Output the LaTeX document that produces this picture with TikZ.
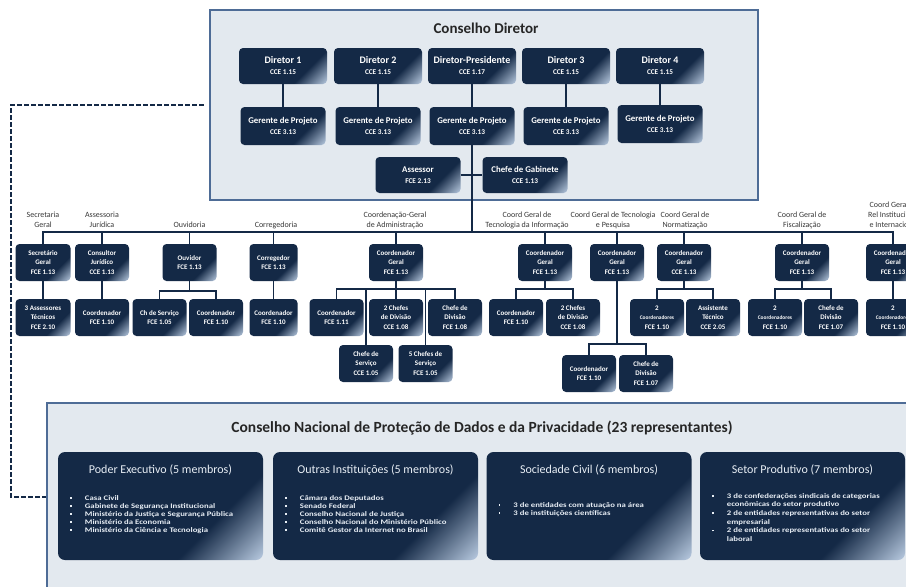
\documentclass[tikz,border=0pt]{standalone}
\usepackage{fontspec}
\setmainfont{Carlito}
\newfontfamily\listafont[FakeStretch=1.25]{Carlito}
\usetikzlibrary{positioning}

\definecolor{cdnavy}{RGB}{20,41,70}
\definecolor{cdpale}{RGB}{190,208,230}
\definecolor{cdfundo}{RGB}{227,233,239}
\definecolor{cdborda}{RGB}{78,108,150}
\definecolor{cdtexto}{RGB}{55,55,55}
\definecolor{cdclaro}{RGB}{232,238,245}

\pgfdeclarehorizontalshading{cdcanto}{100bp}{color(0bp)=(cdnavy); color(66bp)=(cdnavy); color(86bp)=(cdpale); color(100bp)=(cdpale)}

\newcommand{\cod}{\fontsize{7.3}{9}\selectfont}
\newcommand{\marca}{\rule[1.4pt]{1.9pt}{1.9pt}}
\newcommand{\apertado}{\fontsize{5.4}{9.5}\selectfont}

\tikzset{
  caixa/.style={rectangle, rounded corners=4pt, shading=cdcanto, shading angle=-45, text=white, align=center, inner sep=1pt},
  diretor/.style={caixa, minimum width=88pt, minimum height=36pt, font=\bfseries\fontsize{10}{11}\selectfont},
  gerente/.style={caixa, minimum width=85pt, minimum height=38pt, font=\bfseries\fontsize{8.8}{10.5}\selectfont},
  unidade/.style={caixa, minimum width=54pt, minimum height=37pt, font=\bfseries\fontsize{7}{9.5}\selectfont},
  painel/.style={caixa, rounded corners=7pt, minimum width=205pt, minimum height=108pt},
  rotulo/.style={text=cdtexto, align=center, inner sep=0pt, font=\fontsize{8}{10}\selectfont},
  moldura/.style={rectangle, fill=cdfundo, draw=cdborda, line width=2.2pt},
  elo/.style={draw=cdnavy, line width=1.7pt},
  tracejado/.style={draw=cdnavy, line width=1.7pt, dash pattern=on 4.5pt off 2.5pt},
  titpainel/.style={text=cdclaro, inner sep=0pt, font=\fontsize{12}{14}\selectfont},
  lista/.style={text=cdclaro, inner sep=0pt, font=\listafont\bfseries\fontsize{7}{7.9}\selectfont},
}

\begin{document}
\begin{tikzpicture}[x=1pt, y=-1pt]
    \useasboundingbox (0,0) rectangle (906,587);
    \clip (0,0) rectangle (906,587);

    % Conselho Diretor
    \node[moldura, minimum width=548pt, minimum height=190pt] (cd) at (484,105) {};
    \node[font=\bfseries\fontsize{15}{17}\selectfont, text=black!85] (cdtit) at (486,28) {Conselho Diretor};

    \node[diretor] (d1) at (283,66) {Diretor 1\\{\cod CCE 1.15}};
    \node[diretor] (d2) at (378,66) {Diretor 2\\{\cod CCE 1.15}};
    \node[diretor] (dp) at (472,66) {Diretor-Presidente\\{\cod CCE 1.17}};
    \node[diretor] (d3) at (566,66) {Diretor 3\\{\cod CCE 1.15}};
    \node[diretor] (d4) at (660,66) {Diretor 4\\{\cod CCE 1.15}};

    \node[gerente] (g1) at (283,126) {Gerente de Projeto\\{\cod CCE 3.13}};
    \node[gerente] (g2) at (378,126) {Gerente de Projeto\\{\cod CCE 3.13}};
    \node[gerente] (gp) at (472,126) {Gerente de Projeto\\{\cod CCE 3.13}};
    \node[gerente] (g3) at (566,126) {Gerente de Projeto\\{\cod CCE 3.13}};
    \node[gerente] (g4) at (660,124) {Gerente de Projeto\\{\cod CCE 3.13}};

    \node[gerente, minimum height=36pt] (ass) at (418,175) {Assessor\\{\cod FCE 2.13}};
    \node[gerente, minimum height=36pt] (gab) at (525,175) {Chefe de Gabinete\\{\cod CCE 1.13}};

    \foreach \i in {1,2,p,3,4}
        \draw[elo] (d\i) -- (g\i);
    \draw[elo] (ass) -- (gab);

    % barramento das unidades
    \coordinate (barra) at (0,232);
    \draw[elo] (gp.south) -- (gp.south |- barra);

    \node[rotulo] (lsg) at (43,220) {Secretaria\\Geral};
    \node[rotulo] (laj) at (102,220) {Assessoria\\Jurídica};
    \node[rotulo] (louv) at (189.5,225) {Ouvidoria};
    \node[rotulo] (lcor) at (276,225) {Corregedoria};
    \node[rotulo] (lcga) at (395,220) {Coordenação-Geral\\de Administração};
    \node[rotulo] (lcgti) at (527,220) {Coord Geral de\\Tecnologia da Informação};
    \node[rotulo] (lcgtp) at (613,220) {Coord Geral de Tecnologia\\e Pesquisa};
    \node[rotulo] (lcgn) at (685,220) {Coord Geral de\\Normatização};
    \node[rotulo] (lcgf) at (802,220) {Coord Geral de\\Fiscalização};
    \node[rotulo] (lcgri) at (894,215) {Coord Geral de\\Rel Institucional\\e Internacional};

    % primeiro nivel
    \node[unidade, minimum width=55pt] (sg) at (43,262.5) {Secretário\\Geral\\FCE 1.13};
    \node[unidade] (aj) at (102,262.5) {Consultor\\Jurídico\\CCE 1.13};
    \node[unidade] (ouv) at (189.5,262.5) {Ouvidor\\FCE 1.13};
    \node[unidade, minimum width=48pt] (cor) at (273.5,262.5) {Corregedor\\FCE 1.13};
    \node[unidade] (cga) at (396,262.5) {Coordenador\\Geral\\FCE 1.13};
    \node[unidade] (cgti) at (545,262.5) {Coordenador\\Geral\\FCE 1.13};
    \node[unidade] (cgtp) at (617,262.5) {Coordenador\\Geral\\FCE 1.13};
    \node[unidade] (cgn) at (684,262.5) {Coordenador\\Geral\\CCE 1.13};
    \node[unidade] (cgf) at (802,262.5) {Coordenador\\Geral\\FCE 1.13};
    \node[unidade] (cgri) at (893,262.5) {Coordenador\\Geral\\FCE 1.13};

    % segundo nivel
    \node[unidade, minimum width=55pt] (ast) at (43,317.5) {3 Assessores\\Técnicos\\FCE 2.10};
    \node[unidade] (ajc) at (102,317.5) {Coordenador\\FCE 1.10};
    \node[unidade] (ouvs) at (159.5,317.5) {Ch de Serviço\\FCE 1.05};
    \node[unidade] (ouvc) at (216,317.5) {Coordenador\\FCE 1.10};
    \node[unidade, minimum width=48pt] (corc) at (273.5,317.5) {Coordenador\\FCE 1.10};
    \node[unidade] (cgac) at (336.5,317.5) {Coordenador\\FCE 1.11};
    \node[unidade] (cgad) at (396,317.5) {2 Chefes\\de Divisão\\CCE 1.08};
    \node[unidade] (cgadv) at (455,317.5) {Chefe de\\Divisão\\FCE 1.08};
    \node[unidade] (ticoo) at (516,317.5) {Coordenador\\FCE 1.10};
    \node[unidade] (tidiv) at (573,317.5) {2 Chefes\\de Divisão\\CCE 1.08};
    \node[unidade] (ncoo) at (657,317.5) {2\\{\apertado Coordenadores}\\FCE 1.10};
    \node[unidade] (nass) at (713,317.5) {Assistente\\Técnico\\CCE 2.05};
    \node[unidade] (fcoo) at (775,317.5) {2\\{\apertado Coordenadores}\\FCE 1.10};
    \node[unidade] (fdiv) at (831,317.5) {Chefe de\\Divisão\\FCE 1.07};
    \node[unidade] (ricoo) at (893,317.5) {2\\{\apertado Coordenadores}\\FCE 1.10};

    % terceiro nivel
    \node[unidade] (cgas) at (366,363.5) {Chefe de\\Serviço\\CCE 1.05};
    \node[unidade] (cgacs) at (425.5,363.5) {5 Chefes de\\Serviço\\FCE 1.05};
    \node[unidade] (tpcoo) at (589,373.5) {Coordenador\\FCE 1.10};
    \node[unidade] (tpdiv) at (646,373.5) {Chefe de\\Divisão\\FCE 1.07};

    % ligacoes
    \draw[elo] (sg.north) |- (cgri.north |- barra) -- (cgri.north);
    \foreach \u in {aj, ouv, cor, cga, cgti, cgtp, cgn, cgf}
        \draw[elo] (\u.north) -- (\u.north |- barra);
    \foreach \a/\b in {sg/ast, aj/ajc, cor/corc, cga/cgad, cgri/ricoo}
        \draw[elo] (\a) -- (\b);

    \draw[elo] (ouv.south) -- ++(0,10) coordinate (bouv);
    \draw[elo] (ouvs.north) |- (bouv) -| (ouvc.north);

    \draw[elo] (cgac.north) -- ++(0,-10) coordinate (bcga) -| (cgadv.north);
    \foreach \u in {cgas, cgacs}
        \draw[elo] (\u.north) -- (\u.north |- bcga);

    \draw[elo] (cgti.south) -- ++(0,8) coordinate (bti);
    \draw[elo] (ticoo.north) |- (bti) -| (tidiv.north);
    \draw[elo] (cgtp.south) -- ++(0,63) coordinate (btp);
    \draw[elo] (tpcoo.north) |- (btp) -| (tpdiv.north);
    \draw[elo] (cgn.south) -- ++(0,8) coordinate (bn);
    \draw[elo] (ncoo.north) |- (bn) -| (nass.north);
    \draw[elo] (cgf.south) -- ++(0,8) coordinate (bf);
    \draw[elo] (fcoo.north) |- (bf) -| (fdiv.north);

    % Conselho Nacional
    \node[moldura, minimum width=870pt, minimum height=200pt, anchor=north west] (cn) at (46,402) {};
    \node[font=\bfseries\fontsize{15.5}{17}\selectfont, text=black!85] (cntit) at (482,428) {Conselho Nacional de Proteção de Dados e da Privacidade (23 representantes)};

    \draw[tracejado] ([xshift=-5pt]cd.west) -| (11,497) -- (cn.west |- 0,497);

    \node[painel] (pe) at (160.5,506) {};
    \node[painel] (oi) at (375.5,506) {};
    \node[painel] (sc) at (589,506) {};
    \node[painel] (sp) at (802.5,506) {};

    \node[titpainel, below=13pt of pe.north] (pet) {Poder Executivo (5 membros)};
    \node[titpainel, below=13pt of oi.north] (oit) {Outras Instituições (5 membros)};
    \node[titpainel, below=13pt of sc.north] (sct) {Sociedade Civil (6 membros)};
    \node[titpainel, below=13pt of sp.north] (spt) {Setor Produtivo (7 membros)};

    \node[lista, below right=43pt and 12pt of pe.north west] (pel) {%
        \begin{tabular}{@{}l@{\hspace{13pt}}l@{}}
        \marca & Casa Civil\\
        \marca & Gabinete de Segurança Institucional\\
        \marca & Ministério da Justiça e Segurança Pública\\
        \marca & Ministério da Economia\\
        \marca & Ministério da Ciência e Tecnologia
        \end{tabular}};
    \node[lista, below right=43pt and 12pt of oi.north west] (oil) {%
        \begin{tabular}{@{}l@{\hspace{13pt}}l@{}}
        \marca & Câmara dos Deputados\\
        \marca & Senado Federal\\
        \marca & Conselho Nacional de Justiça\\
        \marca & Conselho Nacional do Ministério Público\\
        \marca & Comitê Gestor da Internet no Brasil
        \end{tabular}};
    \node[lista, below right=50pt and 12pt of sc.north west] (scl) {%
        \begin{tabular}{@{}l@{\hspace{13pt}}l@{}}
        \marca & 3 de entidades com atuação na área\\
        \marca & 3 de instituições científicas
        \end{tabular}};
    \node[lista, below right=40pt and 12pt of sp.north west] (spl) {%
        \renewcommand{\arraystretch}{1.1}%
        \begin{tabular}{@{}l@{\hspace{13pt}}l@{}}
        \marca & 3 de confederações sindicais de categorias\\
               & econômicas do setor produtivo\\
        \marca & 2 de entidades representativas do setor\\
               & empresarial\\
        \marca & 2 de entidades representativas do setor\\
               & laboral
        \end{tabular}};

\end{tikzpicture}
\end{document}
